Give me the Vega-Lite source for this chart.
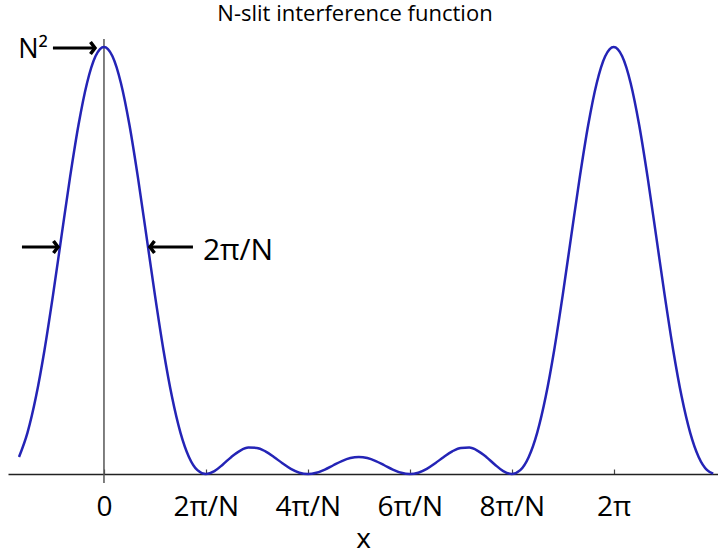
{
  "$schema": "https://vega.github.io/schema/vega-lite/v6.json",
  "width": 710,
  "height": 435,
  "autosize": "none",
  "padding": {"left": 8, "top": 39, "right": 0, "bottom": 86},
  "background": "white",
  "config": {"view": {"stroke": null}},
  "title": {"text": "N-slit interference function", "font": "Open Sans", "fontSize": 22, "fontWeight": "normal", "color": "black", "frame": "group", "offset": 9, "dx": -8},
  "data": {"values": [
      {"kind": "curve", "x": -1.0472, "f": 1.0}, {"kind": "curve", "x": -0.9425, "f": 2.4259}, {"kind": "curve", "x": -0.8378, "f": 4.5335}, {"kind": "curve", "x": -0.733, "f": 7.265},
      {"kind": "curve", "x": -0.6283, "f": 10.472}, {"kind": "curve", "x": -0.5236, "f": 13.928}, {"kind": "curve", "x": -0.4189, "f": 17.35}, {"kind": "curve", "x": -0.3142, "f": 20.432},
      {"kind": "curve", "x": -0.2094, "f": 22.881}, {"kind": "curve", "x": -0.1047, "f": 24.457}, {"kind": "curve", "x": 0, "f": 25},
      {"kind": "curve", "x": 0.1047, "f": 24.457}, {"kind": "curve", "x": 0.2094, "f": 22.881}, {"kind": "curve", "x": 0.3142, "f": 20.432}, {"kind": "curve", "x": 0.4189, "f": 17.35},
      {"kind": "curve", "x": 0.5236, "f": 13.928}, {"kind": "curve", "x": 0.6283, "f": 10.472}, {"kind": "curve", "x": 0.733, "f": 7.265}, {"kind": "curve", "x": 0.8378, "f": 4.5335},
      {"kind": "curve", "x": 0.9425, "f": 2.4259}, {"kind": "curve", "x": 1.0472, "f": 1.0}, {"kind": "curve", "x": 1.1519, "f": 0.2258}, {"kind": "curve", "x": 1.2566, "f": 0},
      {"kind": "curve", "x": 1.3614, "f": 0.1691}, {"kind": "curve", "x": 1.4661, "f": 0.5584}, {"kind": "curve", "x": 1.5708, "f": 1.0}, {"kind": "curve", "x": 1.6755, "f": 1.3581},
      {"kind": "curve", "x": 1.7802, "f": 1.5448}, {"kind": "curve", "x": 1.885, "f": 1.5279}, {"kind": "curve", "x": 1.9897, "f": 1.3265}, {"kind": "curve", "x": 2.0944, "f": 1.0},
      {"kind": "curve", "x": 2.1991, "f": 0.6298}, {"kind": "curve", "x": 2.3038, "f": 0.2996}, {"kind": "curve", "x": 2.4086, "f": 0.0769}, {"kind": "curve", "x": 2.5133, "f": 0},
      {"kind": "curve", "x": 2.618, "f": 0.0718}, {"kind": "curve", "x": 2.7227, "f": 0.2613}, {"kind": "curve", "x": 2.8274, "f": 0.5125}, {"kind": "curve", "x": 2.9322, "f": 0.7583},
      {"kind": "curve", "x": 3.0369, "f": 0.9356}, {"kind": "curve", "x": 3.1416, "f": 1.0}, {"kind": "curve", "x": 3.2463, "f": 0.9356}, {"kind": "curve", "x": 3.351, "f": 0.7583},
      {"kind": "curve", "x": 3.4558, "f": 0.5125}, {"kind": "curve", "x": 3.5605, "f": 0.2613}, {"kind": "curve", "x": 3.6652, "f": 0.0718}, {"kind": "curve", "x": 3.7699, "f": 0},
      {"kind": "curve", "x": 3.8746, "f": 0.0769}, {"kind": "curve", "x": 3.9794, "f": 0.2996}, {"kind": "curve", "x": 4.0841, "f": 0.6298}, {"kind": "curve", "x": 4.1888, "f": 1.0},
      {"kind": "curve", "x": 4.2935, "f": 1.3265}, {"kind": "curve", "x": 4.3982, "f": 1.5279}, {"kind": "curve", "x": 4.5029, "f": 1.5448}, {"kind": "curve", "x": 4.6077, "f": 1.3581},
      {"kind": "curve", "x": 4.7124, "f": 1.0}, {"kind": "curve", "x": 4.8171, "f": 0.5584}, {"kind": "curve", "x": 4.9218, "f": 0.1691}, {"kind": "curve", "x": 5.0265, "f": 0},
      {"kind": "curve", "x": 5.1313, "f": 0.2258}, {"kind": "curve", "x": 5.236, "f": 1.0}, {"kind": "curve", "x": 5.3407, "f": 2.4259}, {"kind": "curve", "x": 5.4454, "f": 4.5335},
      {"kind": "curve", "x": 5.5501, "f": 7.265}, {"kind": "curve", "x": 5.6549, "f": 10.472}, {"kind": "curve", "x": 5.7596, "f": 13.928}, {"kind": "curve", "x": 5.8643, "f": 17.35},
      {"kind": "curve", "x": 5.969, "f": 20.432}, {"kind": "curve", "x": 6.0737, "f": 22.881}, {"kind": "curve", "x": 6.1785, "f": 24.457}, {"kind": "curve", "x": 6.2832, "f": 25},
      {"kind": "curve", "x": 6.3879, "f": 24.457}, {"kind": "curve", "x": 6.4926, "f": 22.881}, {"kind": "curve", "x": 6.5973, "f": 20.432}, {"kind": "curve", "x": 6.7021, "f": 17.35},
      {"kind": "curve", "x": 6.8068, "f": 13.928}, {"kind": "curve", "x": 6.9115, "f": 10.472}, {"kind": "curve", "x": 7.0162, "f": 7.265}, {"kind": "curve", "x": 7.1209, "f": 4.5335},
      {"kind": "curve", "x": 7.2257, "f": 2.4259}, {"kind": "curve", "x": 7.3304, "f": 1.0}, {"kind": "curve", "x": 7.4351, "f": 0.2258}, {"kind": "curve", "x": 7.51, "f": 0.02},
      {"kind": "zero", "x": 0, "f": -0.53, "f2": 25.47},
      {"kind": "arrowR", "x": -0.629, "x2": -0.111, "f": 24.94},
      {"kind": "arrowR", "x": -1.011, "x2": -0.567, "f": 13.29},
      {"kind": "arrowL", "x": 1.097, "x2": 0.567, "f": 13.29},
      {"kind": "noteN", "x": -0.69, "f": 24.36, "label": "N²"},
      {"kind": "noteW", "x": 1.22, "f": 12.53, "label": "2π/N"}
  ]},
  "encoding": {
    "x": {
      "field": "x", "type": "quantitative",
      "scale": {"domain": [-1.183, 7.569], "nice": false, "zero": false},
      "axis": {
        "values": [0, 1.2566, 2.5133, 3.7699, 5.0265, 6.2832],
        "labelExpr": "datum.value < 0.5 ? '0' : datum.value < 1.5 ? '2π/N' : datum.value < 3 ? '4π/N' : datum.value < 4 ? '6π/N' : datum.value < 5.5 ? '8π/N' : '2π'",
        "grid": false,
        "domainColor": "#222222", "domainWidth": 1.5,
        "tickColor": "#444444", "tickWidth": 1.2, "tickSize": -5,
        "labelFont": "Open Sans", "labelFontSize": 28, "labelColor": "black", "labelPadding": 24,
        "labelFlush": false, "labelOverlap": false,
        "title": "x", "titleFont": "Open Sans", "titleFontSize": 28, "titleFontWeight": "normal", "titleColor": "black", "titlePadding": 4
      }
    },
    "y": {"field": "f", "type": "quantitative", "scale": {"domain": [0, 25.47], "nice": false, "zero": false}, "axis": null}
  },
  "layer": [
    {
      "transform": [{"filter": "datum.kind == 'zero'"}],
      "mark": {"type": "rule", "color": "#555555", "strokeWidth": 1.5},
      "encoding": {"y2": {"field": "f2"}}
    },
    {
      "transform": [{"filter": "datum.kind == 'curve'"}],
      "mark": {"type": "line", "color": "#2424b6", "strokeWidth": 2.5, "interpolate": "monotone"},
      "encoding": {}
    },
    {
      "transform": [{"filter": "datum.kind == 'arrowR' || datum.kind == 'arrowL'"}],
      "mark": {"type": "rule", "color": "black", "strokeWidth": 3},
      "encoding": {"x2": {"field": "x2"}}
    },
    {
      "transform": [{"filter": "datum.kind == 'arrowR'"}],
      "mark": {"type": "point", "shape": "M-0.75,-1L0,0L-0.75,1", "filled": false, "stroke": "black", "strokeWidth": 3.5, "opacity": 1, "size": 144},
      "encoding": {"x": {"field": "x2", "type": "quantitative"}}
    },
    {
      "transform": [{"filter": "datum.kind == 'arrowL'"}],
      "mark": {"type": "point", "shape": "M0.75,-1L0,0L0.75,1", "filled": false, "stroke": "black", "strokeWidth": 3.5, "opacity": 1, "size": 144},
      "encoding": {"x": {"field": "x2", "type": "quantitative"}}
    },
    {
      "transform": [{"filter": "datum.kind == 'noteN'"}],
      "mark": {"type": "text", "baseline": "alphabetic", "align": "right", "font": "Open Sans", "fontSize": 27, "color": "black"},
      "encoding": {"text": {"field": "label"}}
    },
    {
      "transform": [{"filter": "datum.kind == 'noteW'"}],
      "mark": {"type": "text", "baseline": "alphabetic", "align": "left", "font": "Open Sans", "fontSize": 30, "color": "black"},
      "encoding": {"text": {"field": "label"}}
    }
  ]
}
